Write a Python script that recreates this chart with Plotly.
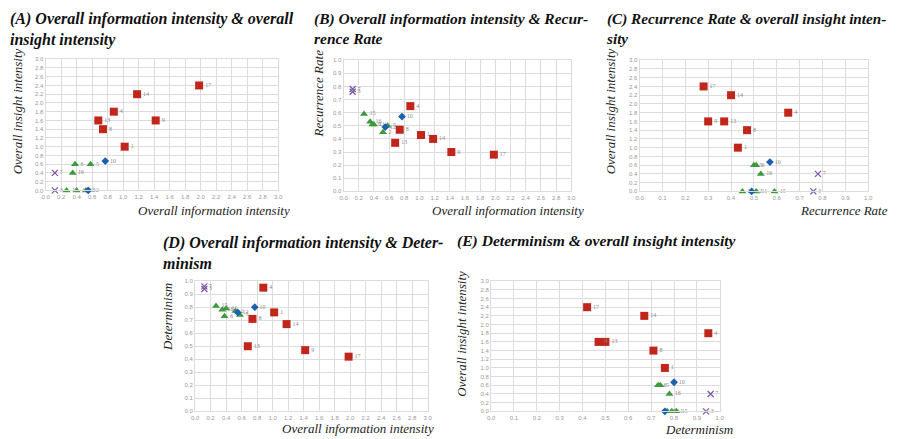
import plotly.graph_objects as go

# Participant data
ids = ["1", "2", "3", "4", "5", "6", "7", "8", "9", "10", "11", "12", "13", "14", "15", "16", "17"]
info = [1.02, 0.52, 0.12, 0.88, 0.58, 0.38, 0.12, 0.74, 1.42, 0.77, 0.40, 0.55, 0.68, 1.18, 0.27, 0.35, 1.98]
insight = [1.0, 0.0, 0.0, 1.8, 0.6, 0.6, 0.4, 1.4, 1.6, 0.67, 0.0, 0.0, 1.6, 2.2, 0.0, 0.4, 2.4]
rr = [0.43, 0.45, 0.76, 0.65, 0.50, 0.51, 0.78, 0.47, 0.30, 0.57, 0.51, 0.49, 0.37, 0.40, 0.59, 0.53, 0.28]
det = [0.76, 0.77, 0.94, 0.95, 0.74, 0.73, 0.96, 0.71, 0.47, 0.80, 0.79, 0.76, 0.50, 0.67, 0.81, 0.78, 0.42]
group = ["red", "green", "purple", "red", "green", "green", "purple", "red", "red", "blue",
         "green", "blue", "red", "red", "green", "green", "red"]

titles = ["(A) Overall information intensity & overall<br>insight intensity",
          "(B) Overall information intensity & Recur-<br>rence Rate",
          "(C) Recurrence Rate & overall insight inten-<br>sity",
          "(D) Overall information intensity & Deter-<br>minism",
          "(E) Determinism & overall insight intensity"]

styles = {
    "red": dict(symbol="square", color="#C0261C", size=8),
    "green": dict(symbol="triangle-up", color="#3C9A3C", size=7),
    "blue": dict(symbol="diamond", color="#1F5FB0", size=6),
    "purple": dict(symbol="x-thin-open", color="#7A5AA8", size=6),
}

W, H = 898, 439
def dx(a, b):
    return [a / W, b / W]
def dy(top, bottom):
    return [1 - bottom / H, 1 - top / H]

# panel definitions: (xdata, ydata, xrange, xdtick, yrange, ydtick, xdomain px, ydomain px)
panels = [
    (info, insight, [0, 3], 0.2, [0, 3], 0.2, (42, 277), (57, 190)),
    (info, rr, [0, 3], 0.2, [0, 1], 0.1, (343, 573), (58, 191)),
    (rr, insight, [0, 1], 0.1, [0, 3], 0.2, (642, 873), (58, 191)),
    (info, det, [0, 3], 0.2, [0, 1], 0.1, (193, 428), (282, 414)),
    (det, insight, [0, 1], 0.1, [0, 3], 0.2, (492, 723), (282, 414)),
]
xtitles = ["Overall information intensity", "Overall information intensity", "Recurrence Rate",
           "Overall information intensity", "Determinism"]
ytitles = ["Overall insight intensity", "Recurrence Rate", "Overall insight intensity",
           "Determinism", "Overall insight intensity"]

fig = go.Figure()
layout = dict(width=W, height=H, margin=dict(l=0, r=0, t=0, b=0),
              paper_bgcolor="white", plot_bgcolor="white", showlegend=False)
annotations = []
grid = "#DCDCDC"

for i, (xs, ys, xr, xd, yr, yd, (x0, x1), (y0, y1)) in enumerate(panels):
    n = "" if i == 0 else str(i + 1)
    for g in ["purple", "green", "blue", "red"]:
        idx = [k for k in range(len(ids)) if group[k] == g]
        st = styles[g]
        fig.add_trace(go.Scatter(
            x=[xs[k] for k in idx], y=[ys[k] for k in idx], text=[ids[k] for k in idx],
            mode="markers+text", textposition="middle right",
            textfont=dict(size=6, color="#8a8a8a", family="Liberation Serif"),
            marker=dict(symbol=st["symbol"], color=st["color"], size=st["size"],
                        line=dict(width=1.3 if g == "purple" else 0, color=st["color"])),
            xaxis="x" + n, yaxis="y" + n, cliponaxis=False))
    ax = dict(range=xr, dtick=xd, tick0=0, tickformat=".1f", domain=dx(x0, x1),
              showgrid=True, gridcolor=grid, gridwidth=1, zeroline=False,
              showline=True, linecolor=grid, mirror=True, ticks="",
              tickfont=dict(size=6, color="#999999", family="Liberation Sans"),
              anchor="y" + n)
    ay = dict(range=yr, dtick=yd, tick0=0, tickformat=".1f", domain=dy(y0, y1),
              showgrid=True, gridcolor=grid, gridwidth=1, zeroline=False,
              showline=True, linecolor=grid, mirror=True, ticks="",
              tickfont=dict(size=6, color="#999999", family="Liberation Sans"),
              anchor="x" + n)
    layout["xaxis" + n] = ax
    layout["yaxis" + n] = ay

# titles
title_pos = [(4, 5), (311, 5), (606, 5), (159, 232), (456, 230)]
title_sizes = [16, 15.5, 15.2, 16, 15.6]
for t, (px, py), fs in zip(titles, title_pos, title_sizes):
    annotations.append(dict(text="<b><i>" + t + "</i></b>", x=px / W, y=1 - py / H,
                            xref="paper", yref="paper", xanchor="left", yanchor="top",
                            align="left", showarrow=False,
                            font=dict(family="Liberation Serif", size=fs, color="#111111")))
# x axis titles (right aligned)
xt_pos = [(291, 210), (588, 210), (895, 210), (436, 431), (738, 432)]
for t, (px, py) in zip(xtitles, xt_pos):
    annotations.append(dict(text="<i>" + t + "</i>", x=px / W, y=1 - py / H,
                            xref="paper", yref="paper", xanchor="right", yanchor="middle",
                            showarrow=False,
                            font=dict(family="Liberation Serif", size=13, color="#222222")))
# y axis titles
yt_pos = [(14, 110), (318, 92), (613, 110), (165, 318), (462, 335)]
for t, (px, py) in zip(ytitles, yt_pos):
    annotations.append(dict(text="<i>" + t + "</i>", x=px / W, y=1 - py / H,
                            xref="paper", yref="paper", xanchor="center", yanchor="middle",
                            textangle=-90, showarrow=False,
                            font=dict(family="Liberation Serif", size=13, color="#222222")))

layout["annotations"] = annotations
fig.update_layout(**layout)
fig.write_html("out.html", config={"displayModeBar": False},
               post_script="document.body.style.margin='0';document.body.style.overflow='hidden';")
